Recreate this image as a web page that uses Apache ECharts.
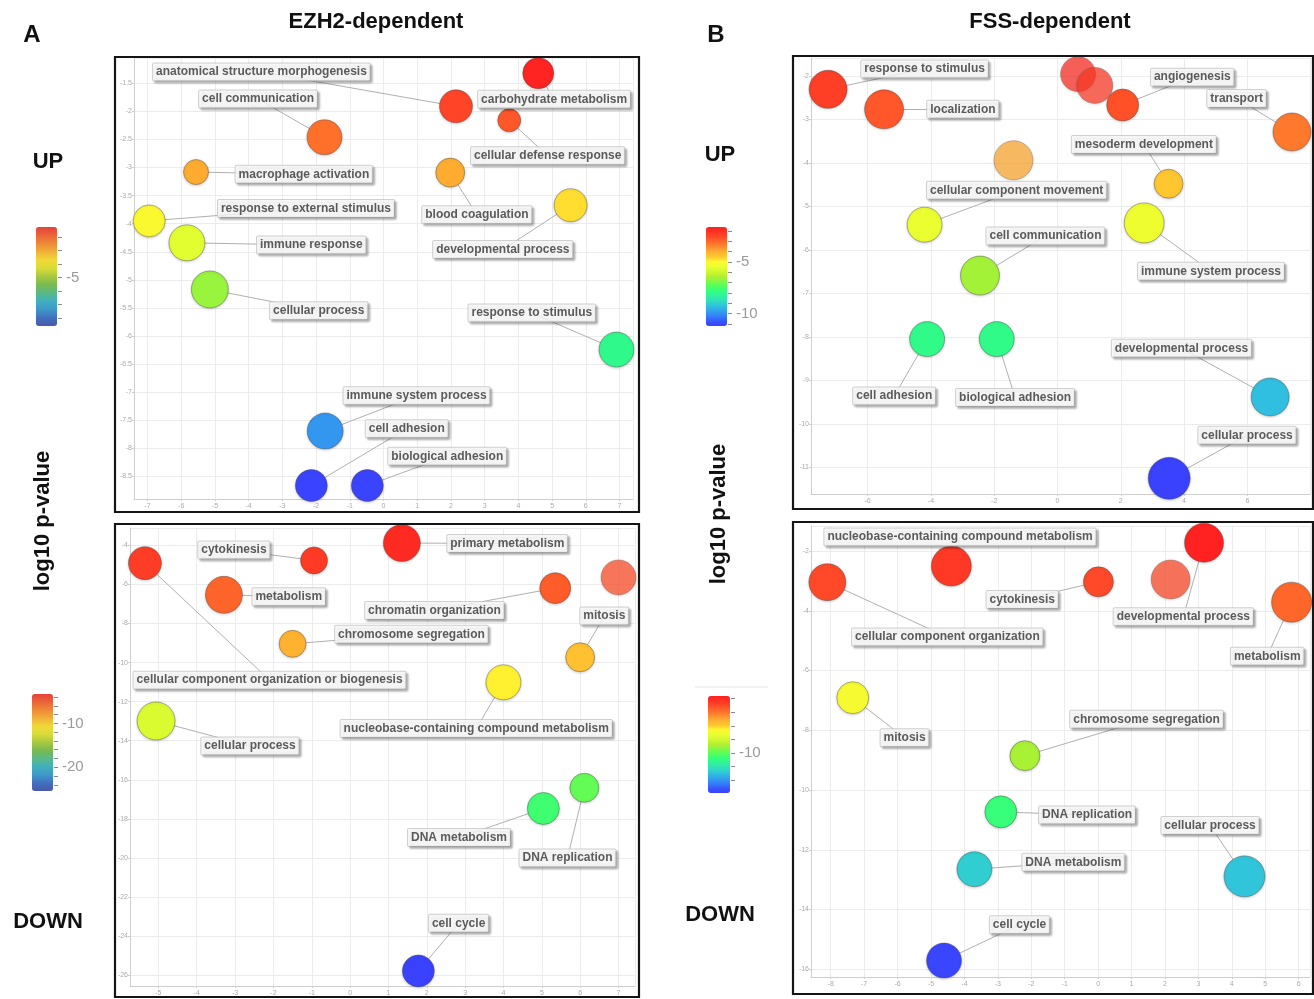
<!DOCTYPE html>
<html><head><meta charset="utf-8">
<script src="https://cdn.jsdelivr.net/npm/echarts@6/dist/echarts.min.js"></script>
<style>html,body{margin:0;padding:0;background:#fff}#c{width:1314px;height:999px}</style>
</head><body><div id="c"></div>
<script>
// ---------- DATA ----------
// Panel A (EZH2-dependent) UP
const aUpTerms = ['carbohydrate metabolism','anatomical structure morphogenesis','cellular defense response','cell communication','macrophage activation','blood coagulation','response to external stimulus','developmental process','immune response','cellular process','response to stimulus','immune system process','cell adhesion','biological adhesion'];
const aUpX    = [4.59, 2.15, 3.73, -1.75, -5.56, 1.98, -6.95, 5.55, -5.83, -5.15, 6.91, -1.73, -2.14, -0.48];
const aUpY    = [-1.32, -1.91, -2.16, -2.46, -3.08, -3.09, -3.95, -3.67, -4.34, -5.17, -6.24, -7.69, -8.66, -8.66];
const aUpSize = [31, 33, 23, 35, 25, 29, 32, 33, 36, 37, 35, 36, 32, 32];
const aUpLabelX = [5.06, -3.62, 4.87, -3.72, -2.36, 2.77, -2.30, 3.54, -2.14, -1.92, 4.40, 0.98, 0.69, 1.89];
const aUpLabelY = [-1.785, -1.30, -2.79, -1.78, -3.12, -3.84, -3.73, -4.46, -4.38, -5.55, -5.59, -7.06, -7.65, -8.14];

// Panel A DOWN
const aDownTerms = ['cellular component organization or biogenesis','cytokinesis','primary metabolism','metabolism','chromatin organization','','mitosis','chromosome segregation','nucleobase-containing compound metabolism','cellular process','DNA replication','DNA metabolism','cell cycle'];
const aDownX    = [-5.35, -0.94, 1.35, -3.29, 5.35, 7.0, 6.0, -1.50, 4.0, -5.06, 6.11, 5.04, 1.78];
const aDownY    = [-4.91, -4.77, -3.88, -6.53, -6.19, -5.64, -9.73, -9.04, -11.01, -12.99, -16.41, -17.47, -25.79];
const aDownSize = [33, 27, 37, 37, 31, 35, 29, 27, 35, 38, 29, 32, 32];
const aDownLabelX = [-2.10, -3.03, 4.10, -1.60, 2.20, null, 6.63, 1.60, 3.29, -2.61, 5.67, 2.84, 2.83];
const aDownLabelY = [-10.9, -4.24, -3.90, -6.63, -7.33, null, -7.62, -8.55, -13.38, -14.27, -20.0, -18.96, -23.35];

// Panel B (FSS-dependent) UP
const bUpTerms = ['response to stimulus','localization','','','angiogenesis','transport','','mesoderm development','cellular component movement','immune system process','cell communication','cell adhesion','biological adhesion','developmental process','cellular process'];
const bUpX    = [-7.25, -5.48, 0.65, 1.18, 2.06, 7.41, -1.39, 3.51, -4.20, 2.74, -2.45, -4.12, -1.92, 6.72, 3.53];
const bUpY    = [-2.31, -2.77, -1.96, -2.22, -2.67, -3.29, -3.94, -4.48, -5.42, -5.38, -6.59, -8.05, -8.05, -9.38, -11.25];
const bUpSize = [38, 39, 35, 36, 32, 38, 39, 29, 35, 40, 39, 35, 35, 38, 42];
const bUpLabelX = [-4.2, -2.99, null, null, 4.26, 5.66, null, 2.73, -1.29, 4.85, -0.38, -5.16, -1.34, 3.92, 5.99];
const bUpLabelY = [-1.84, -2.77, null, null, -2.03, -2.52, null, -3.58, -4.63, -6.49, -5.68, -9.36, -9.39, -8.26, -10.26];

// Panel B DOWN
const bDownTerms = ['nucleobase-containing compound metabolism','cellular component organization','cytokinesis','','developmental process','metabolism','mitosis','chromosome segregation','DNA replication','DNA metabolism','cellular process','cell cycle'];
const bDownX    = [-4.39, -8.10, 0.01, 2.17, 3.17, 5.79, -7.34, -2.19, -2.91, -3.70, 4.38, -4.61];
const bDownY    = [-2.50, -3.04, -3.03, -2.95, -1.72, -3.71, -6.91, -8.85, -10.73, -12.65, -12.89, -15.71];
const bDownSize = [40, 37, 30, 39, 39, 40, 32, 30, 32, 35, 41, 35];
const bDownLabelX = [-4.13, -4.51, -2.27, null, 2.55, 5.06, -5.79, 1.45, -0.33, -0.74, 3.35, -2.35];
const bDownLabelY = [-1.53, -4.88, -3.62, null, -4.20, -5.52, -8.25, -7.63, -10.84, -12.42, -11.19, -14.51];

// colour-bar tick labels
const aUpBarLabels = [-5];
const aDownBarLabels = [-10, -20];
const bUpBarLabels = [-5, -10];
const bDownBarLabels = [-10];

// ---------- STYLE / LAYOUT ----------
const FONT = "'Liberation Sans', Arial, Helvetica, sans-serif";
const palette = ['#3a40ff','#3758fc','#3480fa','#32a0ec','#30c0e0','#30dcc0','#30f0a0','#30ff80','#50ff60','#80f848','#b0f030','#d0f830','#e8ff30','#fff830','#ffc830','#ffb030','#ff8a30','#ff6a2a','#ff4a28','#ff3424','#ff2020'];
const paletteMuted = ['#4a58a8','#4270c0','#3f98c8','#40b0c0','#5ab888','#78ba50','#a8c840','#d8dc38','#f0d838','#f0b038','#ee8a38','#ea6438','#e6423a'];

const panels = [
  {terms:aUpTerms, x:aUpX, y:aUpY, size:aUpSize, lx:aUpLabelX, ly:aUpLabelY, faded:[],
   grid:{left:134, top:58, width:499, height:441}, xr:[-7.4,7.4], yr:[-8.9,-1.05], xi:1, yi:0.5, cr:[-8.7,-1.27],
   bar:{left:36, top:227, width:21, height:99, min:-8.6, max:-1.27, step:1, labels:aUpBarLabels, colors:paletteMuted}},
  {terms:aDownTerms, x:aDownX, y:aDownY, size:aDownSize, lx:aDownLabelX, ly:aDownLabelY, faded:[5],
   grid:{left:130, top:528, width:505, height:458}, xr:[-5.74,7.43], yr:[-26.56,-3.11], xi:1, yi:2, cr:[-25.9,-3.3],
   bar:{left:32, top:694, width:21, height:97, min:-25.4, max:-3.3, step:2, labels:aDownBarLabels, colors:paletteMuted}},
  {terms:bUpTerms, x:bUpX, y:bUpY, size:bUpSize, lx:bUpLabelX, ly:bUpLabelY, faded:[2,3,6],
   grid:{left:811, top:58, width:499, height:436}, xr:[-7.79,7.98], yr:[-11.61,-1.59], xi:2, yi:1, cr:[-11.3,-1.61],
   bar:{left:706, top:227, width:21, height:99, min:-11.2, max:-1.61, step:1, labels:bUpBarLabels, colors:palette}},
  {terms:bDownTerms, x:bDownX, y:bDownY, size:bDownSize, lx:bDownLabelX, ly:bDownLabelY, faded:[3],
   grid:{left:811, top:526, width:499, height:451}, xr:[-8.59,6.34], yr:[-16.26,-1.16], xi:1, yi:2, cr:[-15.85,-1.64],
   bar:{left:708, top:696, width:22, height:97, min:-15.85, max:-1.64, step:2, labels:bDownBarLabels, colors:palette}}
];

const grids = [], xAxes = [], yAxes = [], series = [], visualMaps = [];
const tinyLabel = {fontSize:7, color:'#aaa', fontFamily:FONT, showMinLabel:false, showMaxLabel:false, margin:4};
panels.forEach((p, i) => {
  grids.push(Object.assign({}, p.grid));
  xAxes.push({gridIndex:i, type:'value', min:p.xr[0], max:p.xr[1], minInterval:p.xi, maxInterval:p.xi,
    axisLine:{show:true, onZero:false, lineStyle:{color:'#cfcfcf'}}, axisTick:{show:true, length:2, lineStyle:{color:'#cfcfcf'}},
    axisLabel:Object.assign({}, tinyLabel), splitLine:{show:true, lineStyle:{color:'#ececec'}}});
  yAxes.push({gridIndex:i, type:'value', min:p.yr[0], max:p.yr[1], minInterval:p.yi, maxInterval:p.yi,
    axisLine:{show:true, onZero:false, lineStyle:{color:'#cfcfcf'}}, axisTick:{show:true, length:2, lineStyle:{color:'#cfcfcf'}},
    axisLabel:Object.assign({}, tinyLabel, {margin:2}), splitLine:{show:true, lineStyle:{color:'#ececec'}}});
});
panels.forEach((p, i) => {
  const gi = 4 + i, b = p.bar;
  grids.push({left:b.left + b.width + 1, top:b.top, width:4, height:b.height});
  xAxes.push({gridIndex:gi, type:'value', show:false, min:0, max:1});
  yAxes.push({gridIndex:gi, type:'value', position:'left', min:b.min, max:b.max, minInterval:b.step, maxInterval:b.step,
    axisLine:{show:false}, axisTick:{show:false},
    axisLabel:{show:true, inside:false, interval:0, showMinLabel:false, showMaxLabel:false, color:'#9a9a9a', fontSize:15, fontFamily:FONT,
      margin:-8, align:'left',
      formatter: v => (b.labels.indexOf(Math.round(v*1000)/1000) >= 0 ? String(v) : '')},
    splitLine:{show:true, interval:0, showMinLine:false, showMaxLine:false, lineStyle:{color:'#8a8a8a', width:1}}});
});
panels.forEach((p, i) => {
  const lineData = [], labelData = [], bubbleData = [];
  p.terms.forEach((t, k) => {
    const item = {value:[p.x[k], p.y[k], p.size[k]], name:t};
    if (p.faded.indexOf(k) >= 0) item.itemStyle = {opacity:0.72};
    bubbleData.push(item);
    if (t) {
      lineData.push({coords:[[p.x[k], p.y[k]], [p.lx[k], p.ly[k]]]});
      labelData.push({value:[p.lx[k], p.ly[k]], name:t});
    }
  });
  series.push({type:'lines', coordinateSystem:'cartesian2d', xAxisIndex:i, yAxisIndex:i, data:lineData, silent:true, z:1,
    lineStyle:{color:'#b0b0b0', width:1, opacity:1, curveness:0}});
  series.push({type:'scatter', xAxisIndex:i, yAxisIndex:i, data:bubbleData, silent:true, z:5,
    symbolSize: v => v[2],
    itemStyle:{opacity:1, borderColor:'rgba(80,80,80,0.45)', borderWidth:1, shadowColor:'rgba(0,0,0,0.18)', shadowBlur:3, shadowOffsetY:1}});
  series.push({type:'scatter', xAxisIndex:i, yAxisIndex:i, data:labelData, silent:true, z:6, symbolSize:0,
    label:{show:true, position:'inside', formatter:'{b}', color:'#333', fontSize:12, fontWeight:'bold', fontFamily:FONT,
      lineHeight:14, backgroundColor:'#fff', borderColor:'#c4c4c4', borderWidth:1, borderRadius:1, padding:[2,3,1,3],
      shadowColor:'rgba(0,0,0,0.28)', shadowBlur:2, shadowOffsetX:2, shadowOffsetY:2}});
  series.push({type:'scatter', xAxisIndex:4+i, yAxisIndex:4+i, data:[], silent:true});
  visualMaps.push({type:'continuous', show:false, seriesIndex:4*i+1, dimension:1, min:p.cr[0], max:p.cr[1], inRange:{color:palette}});
  visualMaps.push({type:'continuous', show:true, seriesIndex:4*i+3, dimension:1, min:p.bar.min, max:p.bar.max,
    orient:'vertical', left:p.bar.left, top:p.bar.top, itemWidth:p.bar.width, itemHeight:p.bar.height, padding:0,
    calculable:false, hoverLink:false, inRange:{color:p.bar.colors}});
});

function txt(text, x, y, size, extra) {
  return Object.assign({type:'text', x:x, y:y, z:200, silent:true,
    style:{text:text, font:'bold ' + size + 'px ' + FONT, fill:'#111', align:'center', verticalAlign:'middle',
      textAlign:'center', textVerticalAlign:'middle'}}, extra || {});
}
function frame(x1, y1, x2, y2) {
  return {type:'rect', z:200, silent:true, shape:{x:x1, y:y1, width:x2-x1, height:y2-y1},
    style:{fill:'none', stroke:'#151515', lineWidth:2.2}};
}
const graphics = [
  txt('A', 32, 35, 24), txt('B', 716, 35, 24),
  txt('EZH2-dependent', 376, 22, 22), txt('FSS-dependent', 1050, 22, 22),
  txt('UP', 48, 162, 22), txt('DOWN', 48, 922, 22),
  txt('UP', 720, 155, 22), txt('DOWN', 720, 915, 22),
  txt('log10 p-value', 43, 521, 22, {rotation:Math.PI/2}),
  txt('log10 p-value', 719, 514, 22, {rotation:Math.PI/2}),
  frame(115, 57, 639, 512), frame(115, 524, 639, 997),
  frame(793, 56, 1313, 509), frame(793, 522, 1313, 994),
  {type:'line', z:150, silent:true, shape:{x1:695, y1:687, x2:768, y2:687}, style:{stroke:'#e4e4e4', lineWidth:1}}
];

const chart = echarts.init(document.getElementById('c'), null, {renderer:'canvas'});
chart.setOption({
  animation:false,
  backgroundColor:'#fff',
  textStyle:{fontFamily:FONT},
  grid:grids, xAxis:xAxes, yAxis:yAxes, series:series, visualMap:visualMaps, graphic:graphics
});
</script></body></html>
